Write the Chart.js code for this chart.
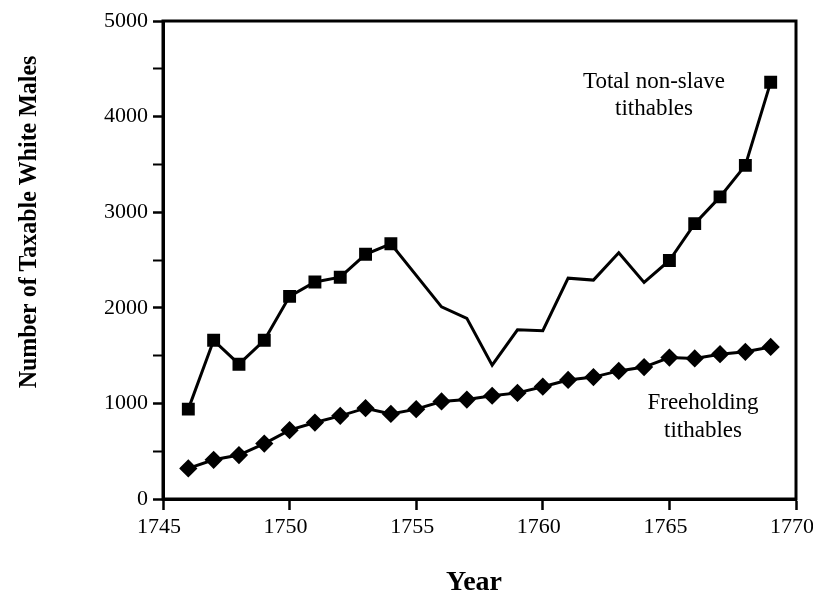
<!DOCTYPE html>
<html>
<head>
<meta charset="utf-8">
<script src="https://cdn.jsdelivr.net/npm/chart.js@4.4.1/dist/chart.umd.min.js"></script>
<style>
  html, body { margin: 0; padding: 0; background: #fff; }
  #wrap { width: 813px; height: 596px; }
</style>
</head>
<body>
<div id="wrap"><canvas id="c" width="813" height="596"></canvas></div>
<script>
// ---- Data ----
const years = [1746,1747,1748,1749,1750,1751,1752,1753,1754,1755,1756,1757,1758,1759,1760,1761,1762,1763,1764,1765,1766,1767,1768,1769];
const totalNonSlave = [940,1660,1410,1660,2120,2270,2320,2560,2670,null,2010,1890,1400,1770,1760,2310,2290,2575,2265,2495,2880,3160,3490,4360];
const freeholding = [320,410,460,580,720,800,870,950,890,940,1020,1040,1080,1110,1175,1245,1275,1340,1380,1480,1470,1515,1540,1590];
const xTicks = [1745,1750,1755,1760,1765,1770];
const yTicks = [0,1000,2000,3000,4000,5000];
const yTitle = 'Number of Taxable White Males';
const xTitle = 'Year';
const totalLabel = ['Total non-slave', 'tithables'];
const freeLabel = ['Freeholding', 'tithables'];

const SERIF = '"Liberation Serif", "Times New Roman", serif';

const frame = {
  id: 'frame',
  afterDraw(chart) {
    const {ctx, chartArea: a} = chart;
    ctx.save();
    ctx.strokeStyle = '#000';
    ctx.lineWidth = 3;
    ctx.strokeRect(a.left, a.top, a.right - a.left, a.bottom - a.top);
    ctx.fillStyle = '#000';
    // y title
    ctx.font = 'bold 26px ' + SERIF;
    ctx.textAlign = 'center';
    ctx.textBaseline = 'alphabetic';
    ctx.save();
    ctx.translate(36, 222);
    ctx.rotate(-Math.PI / 2);
    ctx.scale(0.92, 1);
    ctx.fillText(yTitle, 0, 0);
    ctx.restore();
    // x title
    ctx.font = 'bold 28px ' + SERIF;
    ctx.fillText(xTitle, 474, 590);
    // annotations
    ctx.font = '23px ' + SERIF;
    ctx.fillText(totalLabel[0], 654, 88);
    ctx.fillText(totalLabel[1], 654, 115);
    ctx.fillText(freeLabel[0], 703, 409);
    ctx.fillText(freeLabel[1], 703, 437);
    ctx.restore();
  }
};

new Chart(document.getElementById('c'), {
  type: 'line',
  data: {
    datasets: [
      {
        label: 'Total non-slave tithables',
        data: years.map((y, i) => ({x: y, y: totalNonSlave[i]})),
        borderColor: '#000',
        backgroundColor: '#000',
        borderWidth: 3,
        spanGaps: true,
        pointStyle: 'rect',
        pointRadius: ctx => {
          const yr = years[ctx.dataIndex];
          return (yr >= 1755 && yr <= 1764) ? 0 : 7;
        },
        pointHoverRadius: 7,
        tension: 0
      },
      {
        label: 'Freeholding tithables',
        data: years.map((y, i) => ({x: y, y: freeholding[i]})),
        borderColor: '#000',
        backgroundColor: '#000',
        borderWidth: 3,
        pointStyle: 'rectRot',
        pointRadius: 7,
        pointHoverRadius: 7,
        tension: 0
      }
    ]
  },
  options: {
    responsive: false,
    animation: false,
    devicePixelRatio: 1,
    layout: { padding: { top: 21, right: 17, left: 0, bottom: 0 } },
    plugins: { legend: { display: false }, tooltip: { enabled: false } },
    scales: {
      x: {
        type: 'linear',
        min: 1745, max: 1770,
        afterBuildTicks: s => { s.ticks = xTicks.map(v => ({value: v})); },
        afterFit: s => { s.height = 97; s.paddingLeft = 0; s.paddingRight = 0; },
        grid: { drawOnChartArea: false, tickLength: 11, tickColor: '#000', tickWidth: 2.5 },
        border: { color: '#000', width: 3 },
        ticks: {
          color: '#000', padding: 4, maxRotation: 0, labelOffset: -4,
          font: { family: SERIF, size: 22 },
          callback: v => String(v)
        }
      },
      y: {
        min: 0, max: 5000,
        afterBuildTicks: s => {
          const t = [];
          for (let v = 0; v <= 5000; v += 500) t.push({value: v});
          s.ticks = t;
        },
        afterFit: s => { s.width = 163; s.paddingTop = 0; s.paddingBottom = 0; },
        grid: {
          drawOnChartArea: false, tickLength: 10, tickColor: '#000',
          tickWidth: c => (c.tick && c.tick.value % 1000 === 0) ? 2.5 : 2
        },
        border: { color: '#000', width: 3 },
        ticks: {
          color: '#000', padding: 5,
          font: { family: SERIF, size: 22 },
          callback: v => yTicks.includes(v) ? String(v) : ''
        }
      }
    }
  },
  plugins: [frame]
});
</script>
</body>
</html>
